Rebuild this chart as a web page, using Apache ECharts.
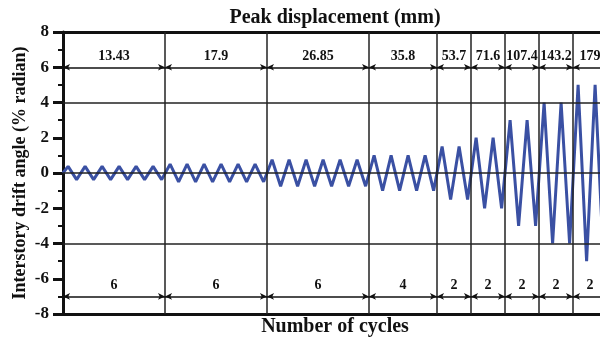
<!DOCTYPE html>
<html>
<head>
<meta charset="utf-8">
<script src="https://cdn.jsdelivr.net/npm/echarts@6/dist/echarts.min.js"></script>
<style>
  html, body { margin: 0; padding: 0; background: #fff; }
  #main { width: 600px; height: 338px; }
</style>
</head>
<body>
<div id="main"></div>
<script>
// loading steps
var stepAmp = [0.375, 0.5, 0.75, 1, 1.5, 2, 3, 4, 5];     // % radian
var stepCycles = [6, 6, 6, 4, 2, 2, 2, 2, 2];
var dispLabels = ['13.43', '17.9', '26.85', '35.8', '53.7', '71.6', '107.4', '143.2', '179'];
var peakPhase = 0.3, troughPhase = 0.8;   // position of peak / trough inside a cycle
var yTicks = [-8, 8, 2];

var font = '"Liberation Serif", "Times New Roman", serif';

// build the drift history + step boundaries
var driftPts = [[0, 0]];
var bounds = [0];
var c = 0;
for (var i = 0; i < stepAmp.length; i++) {
  for (var k = 0; k < stepCycles[i]; k++) {
    driftPts.push([c + k + peakPhase, stepAmp[i]]);
    driftPts.push([c + k + troughPhase, -stepAmp[i]]);
  }
  c += stepCycles[i];
  bounds.push(c);
}

var vLines = [], topArrows = [], botArrows = [];
for (var i = 0; i < stepAmp.length; i++) {
  if (i > 0) vLines.push({ xAxis: bounds[i] });
  topArrows.push([{ coord: [bounds[i], 6], label: { formatter: dispLabels[i] } }, { coord: [bounds[i + 1], 6] }]);
  botArrows.push([{ coord: [bounds[i], -7], label: { formatter: String(stepCycles[i]) } }, { coord: [bounds[i + 1], -7] }]);
}

var myChart = echarts.init(document.getElementById('main'));

var arrowLabel = {
  show: true, position: 'middle', distance: 4,
  color: '#111', fontFamily: font, fontWeight: 'bold', fontSize: 14
};

option = {
  animation: false,
  backgroundColor: '#fff',
  grid: { left: 63, top: 32, width: 544, height: 282, containLabel: false, outerBoundsMode: 'none' },
  xAxis: [
    {
      type: 'value', min: 0, max: 32, position: 'bottom',
      name: 'Number of cycles', nameLocation: 'middle', nameGap: 3,
      nameTextStyle: { fontFamily: font, fontWeight: 'bold', fontSize: 20, color: '#111' },
      axisLine: { show: true, onZero: false, lineStyle: { color: '#111', width: 3 } },
      axisTick: { show: false }, axisLabel: { show: false }, splitLine: { show: false }
    },
    {
      type: 'value', min: 0, max: 32, position: 'top',
      name: 'Peak displacement (mm)', nameLocation: 'middle', nameGap: 4,
      nameTextStyle: { fontFamily: font, fontWeight: 'bold', fontSize: 20, color: '#111' },
      axisLine: { show: true, onZero: false, lineStyle: { color: '#111', width: 3 } },
      axisTick: { show: false }, axisLabel: { show: false }, splitLine: { show: false }
    }
  ],
  yAxis: {
    type: 'value', min: yTicks[0], max: yTicks[1], interval: yTicks[2],
    name: 'Interstory drift angle (% radian)', nameLocation: 'middle', nameGap: 34, nameRotate: 90,
    nameMoveOverlap: false,
    nameTextStyle: { fontFamily: font, fontWeight: 'bold', fontSize: 18, color: '#111' },
    axisLine: { show: true, onZero: false, lineStyle: { color: '#111', width: 3 } },
    axisTick: { show: true, length: 10, lineStyle: { color: '#111', width: 3 } },
    minorTick: { show: true, splitNumber: 2, length: 5, lineStyle: { color: '#111', width: 2 } },
    axisLabel: { margin: 14, fontFamily: font, fontWeight: 'bold', fontSize: 17, color: '#111' },
    splitLine: { show: false }
  },
  series: [
    {
      // grid lines + dimension arrows
      type: 'line', data: [], z: 1, silent: true,
      markLine: {
        silent: true, symbol: 'none',
        label: { show: false },
        lineStyle: { color: '#222', width: 1.5, type: 'solid' },
        data: vLines.concat([{ yAxis: 4 }, { yAxis: 0 }, { yAxis: -4 }])
      }
    },
    {
      type: 'line', data: [], z: 2, silent: true,
      markLine: {
        silent: true, symbol: ['arrow', 'arrow'], symbolSize: [5, 7],
        label: arrowLabel,
        lineStyle: { color: '#111', width: 1.5, type: 'solid' },
        data: topArrows.concat(botArrows)
      }
    },
    {
      name: 'drift', type: 'line', z: 3,
      data: driftPts, showSymbol: false, smooth: false,
      lineStyle: { color: '#3A50A3', width: 3 }
    }
  ]
};

myChart.setOption(option);
window.onresize = myChart.resize;
</script>
</body>
</html>
